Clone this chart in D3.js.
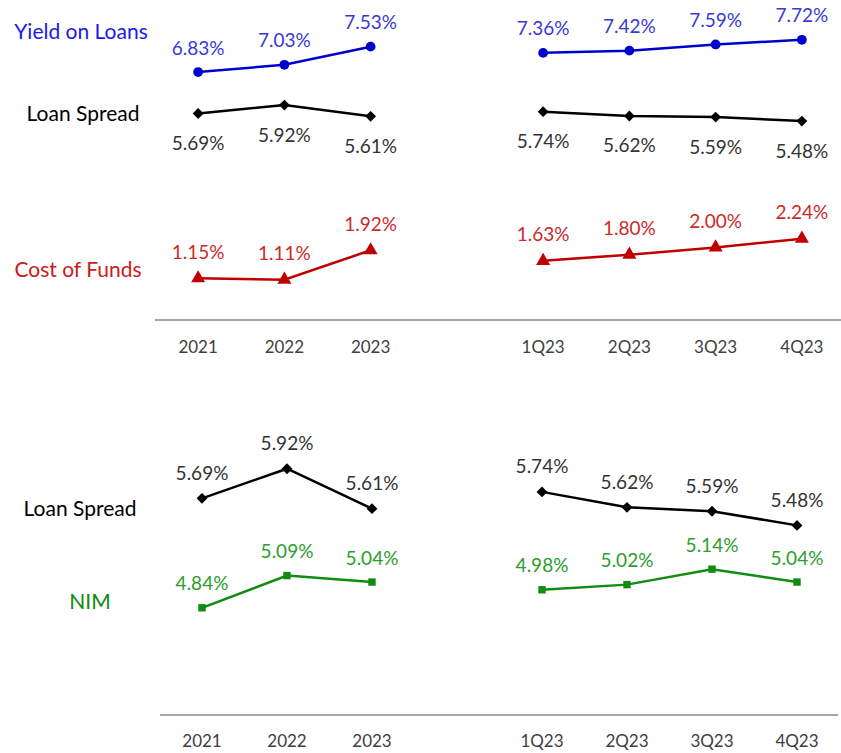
<!DOCTYPE html>
<html>
<head>
<meta charset="utf-8">
<script src="https://cdn.jsdelivr.net/npm/d3@7.9.0/dist/d3.min.js"></script>
<style>
  body { margin: 0; background: #fff; }
  svg { display: block; font-family: Lato, 'Open Sans', sans-serif; }
</style>
</head>
<body>
<svg id="chart" width="841" height="753"></svg>
<script>
// categories (empty slot separates the annual and quarterly groups)
const periods = ['2021', '2022', '2023', '', '1Q23', '2Q23', '3Q23', '4Q23'];
const annual = ['2021', '2022', '2023'];
const quarters = ['1Q23', '2Q23', '3Q23', '4Q23'];

// top panel
const yieldAnnual = [6.83, 7.03, 7.53];
const yieldQuarter = [7.36, 7.42, 7.59, 7.72];
const spreadAnnual = [5.69, 5.92, 5.61];
const spreadQuarter = [5.74, 5.62, 5.59, 5.48];
const costAnnual = [1.15, 1.11, 1.92];
const costQuarter = [1.63, 1.80, 2.00, 2.24];

// bottom panel
const nimAnnual = [4.84, 5.09, 5.04];
const nimQuarter = [4.98, 5.02, 5.14, 5.04];

const svg = d3.select('#chart');

const fmt = (v) => v.toFixed(2) + '%';

function drawSeries(g, x, y, cats, vals, opt) {
  const pts = cats.map((c, i) => [x(c) + x.bandwidth() / 2, y(vals[i]), vals[i]]);
  g.append('path')
    .attr('d', d3.line()(pts.map((p) => [p[0], p[1]])))
    .attr('fill', 'none')
    .attr('stroke', opt.color)
    .attr('stroke-width', 2.5);
  g.selectAll(null).data(pts).join('path')
    .attr('d', d3.symbol().type(opt.symbol).size(opt.size))
    .attr('transform', (p) => `translate(${p[0]},${p[1]})`)
    .attr('fill', opt.color);
  g.selectAll(null).data(pts).join('text')
    .attr('x', (p) => p[0])
    .attr('y', (p) => p[1] + opt.dy)
    .attr('text-anchor', 'middle')
    .attr('dominant-baseline', 'central')
    .attr('font-size', 19)
    .attr('fill', opt.labelColor)
    .text((p) => fmt(p[2]));
}

function drawAxis(g, x, yPos, x0, x1, tickY) {
  g.append('line')
    .attr('x1', x0).attr('x2', x1)
    .attr('y1', yPos).attr('y2', yPos)
    .attr('stroke', '#a6a6a6')
    .attr('stroke-width', 2);
  g.selectAll(null).data(periods.filter((p) => p)).join('text')
    .attr('x', (p) => x(p) + x.bandwidth() / 2)
    .attr('y', tickY)
    .attr('text-anchor', 'middle')
    .attr('dominant-baseline', 'central')
    .attr('font-size', 17)
    .attr('fill', '#404040')
    .text((p) => p);
}

function seriesLabel(text, xPos, yPos, color) {
  svg.append('text')
    .attr('x', xPos).attr('y', yPos)
    .attr('text-anchor', 'middle')
    .attr('dominant-baseline', 'central')
    .attr('font-size', 21)
    .attr('fill', color)
    .text(text);
}

const blue = '#0000cc', blueLbl = '#3939d6';
const black = '#000000', blackLbl = '#333333';
const red = '#c00000', redLbl = '#cc2a2a';
const green = '#108c10', greenLbl = '#2d9d2d';

// ---- top panel ----
const xTop = d3.scaleBand().domain(periods).range([155, 845]).padding(0);
const yTop = d3.scaleLinear().domain([0, 9]).range([320, -6.7]);
const gTop = svg.append('g');

drawAxis(gTop, xTop, 320, 155, 841, 346);

drawSeries(gTop, xTop, yTop, annual, yieldAnnual, { color: blue, labelColor: blueLbl, symbol: d3.symbolCircle, size: 75, dy: -25 });
drawSeries(gTop, xTop, yTop, quarters, yieldQuarter, { color: blue, labelColor: blueLbl, symbol: d3.symbolCircle, size: 75, dy: -25 });
drawSeries(gTop, xTop, yTop, annual, spreadAnnual, { color: black, labelColor: blackLbl, symbol: d3.symbolDiamond2, size: 75, dy: 29 });
drawSeries(gTop, xTop, yTop, quarters, spreadQuarter, { color: black, labelColor: blackLbl, symbol: d3.symbolDiamond2, size: 75, dy: 29 });
drawSeries(gTop, xTop, yTop, annual, costAnnual, { color: red, labelColor: redLbl, symbol: d3.symbolTriangle, size: 85, dy: -27 });
drawSeries(gTop, xTop, yTop, quarters, costQuarter, { color: red, labelColor: redLbl, symbol: d3.symbolTriangle, size: 85, dy: -27 });

seriesLabel('Yield on Loans', 81, 30, '#1a1ae6');
seriesLabel('Loan Spread', 83, 112, '#000000');
seriesLabel('Cost of Funds', 78, 268, '#cc1a1a');

// ---- bottom panel ----
const xBot = d3.scaleBand().domain(periods).range([159.5, 839.5]).padding(0);
const yBot = d3.scaleLinear().domain([4, 6.5]).range([716, 394]);
const gBot = svg.append('g');

drawAxis(gBot, xBot, 715, 160, 838, 740);

drawSeries(gBot, xBot, yBot, annual, spreadAnnual, { color: black, labelColor: blackLbl, symbol: d3.symbolDiamond2, size: 75, dy: -26 });
drawSeries(gBot, xBot, yBot, quarters, spreadQuarter, { color: black, labelColor: blackLbl, symbol: d3.symbolDiamond2, size: 75, dy: -26 });
drawSeries(gBot, xBot, yBot, annual, nimAnnual, { color: green, labelColor: greenLbl, symbol: d3.symbolSquare, size: 55, dy: -25 });
drawSeries(gBot, xBot, yBot, quarters, nimQuarter, { color: green, labelColor: greenLbl, symbol: d3.symbolSquare, size: 55, dy: -25 });

seriesLabel('Loan Spread', 80, 507, '#000000');
seriesLabel('NIM', 90, 600, '#118811');
</script>
</body>
</html>
